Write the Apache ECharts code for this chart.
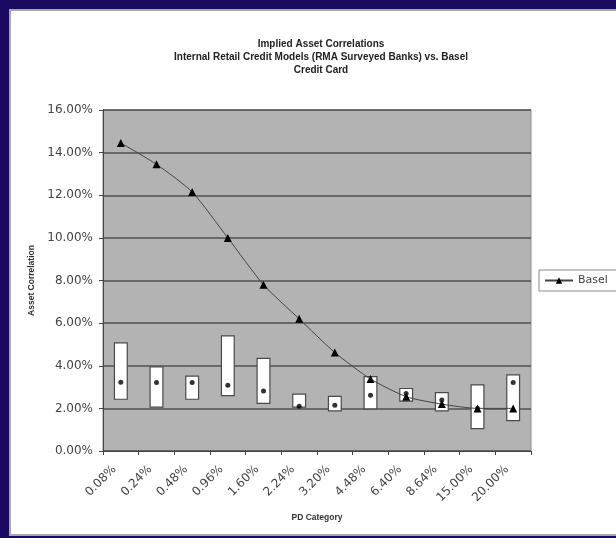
<!DOCTYPE html>
<html>
<head>
<meta charset="utf-8">
<script src="https://cdn.jsdelivr.net/npm/echarts@6/dist/echarts.min.js"></script>
<style>
  html, body { margin: 0; padding: 0; background: #1b0a5f; }
  #chart { width: 616px; height: 538px; }
</style>
</head>
<body>
<div id="chart"></div>
<script>
// PD buckets on the category axis
const categories = ['0.08%', '0.24%', '0.48%', '0.96%', '1.60%', '2.24%', '3.20%', '4.48%', '6.40%', '8.64%', '15.00%', '20.00%'];
// Basel curve (asset correlation, %)
const baselValues = [14.45, 13.45, 12.15, 10.0, 7.8, 6.2, 4.62, 3.38, 2.55, 2.2, 2.0, 2.0];
// Range of bank-reported correlations per bucket (%)
const rangeLow  = [2.40, 2.03, 2.40, 2.57, 2.21, 2.03, 1.85, 1.95, 2.31, 1.85, 1.02, 1.40];
const rangeHigh = [5.10, 3.98, 3.54, 5.43, 4.37, 2.70, 2.59, 3.52, 2.96, 2.77, 3.13, 3.60];
// Median of the bank-reported correlations (%)
const medianValues = [3.22, 3.21, 3.21, 3.09, 2.81, 2.10, 2.15, 2.62, 2.70, 2.39, 2.00, 3.21];
// Y axis ticks (%)
const yMin = 0, yMax = 16, yStep = 2;

const rangeSpan = rangeHigh.map((h, i) => +(h - rangeLow[i]).toFixed(2));

const chart = echarts.init(document.getElementById('chart'), null, { renderer: 'canvas' });
const FONT = 'Liberation Sans, Arial, sans-serif';
const WIDE = 'DejaVu Sans, sans-serif';

chart.setOption({
  backgroundColor: '#1b0a5f',
  animation: false,
  graphic: [{
    type: 'rect',
    z: -100,
    shape: { x: 10, y: 10, width: 640, height: 525 },
    style: { fill: '#ffffff', stroke: '#a8a8a8', lineWidth: 2 }
  }],
  title: {
    text: 'Implied Asset Correlations\nInternal Retail Credit Models (RMA Surveyed Banks) vs. Basel\nCredit Card',
    left: 316,
    top: 33,
    textAlign: 'center',
    textStyle: { fontFamily: FONT, fontSize: 10, fontWeight: 'bold', color: '#222', lineHeight: 13 }
  },
  legend: {
    data: ['Basel'],
    left: 539,
    top: 270,
    orient: 'vertical',
    itemWidth: 28,
    itemHeight: 8,
    itemGap: 4,
    padding: [5, 30, 5, 5],
    borderColor: '#8a8a8a',
    borderWidth: 1,
    backgroundColor: '#ffffff',
    textStyle: { fontFamily: WIDE, fontSize: 11, color: '#444' }
  },
  grid: {
    left: 103, right: 85, top: 110, bottom: 87,
    show: true,
    backgroundColor: '#b3b3b3',
    borderColor: '#8c8c8c',
    borderWidth: 1
  },
  xAxis: {
    type: 'category',
    data: categories,
    boundaryGap: true,
    name: 'PD Category',
    nameLocation: 'middle',
    nameGap: 62,
    nameTextStyle: { fontFamily: FONT, fontSize: 8.5, fontWeight: 'bold', color: '#333' },
    axisLine: { lineStyle: { color: '#444', width: 1 } },
    axisTick: { show: true, length: 4, lineStyle: { color: '#444' } },
    axisLabel: { interval: 0, rotate: 45, fontFamily: WIDE, fontSize: 12, color: '#444', margin: 10, padding: [0, 9, 0, 0] },
    splitLine: { show: false }
  },
  yAxis: {
    type: 'value',
    min: yMin, max: yMax, interval: yStep,
    name: 'Asset Correlation',
    nameLocation: 'middle',
    nameGap: 58,
    nameRotate: 90,
    nameTextStyle: { fontFamily: FONT, fontSize: 8.5, fontWeight: 'bold', color: '#333' },
    axisLine: { show: true, lineStyle: { color: '#444', width: 1 } },
    axisTick: { show: true, length: 4, lineStyle: { color: '#444' } },
    axisLabel: { fontFamily: WIDE, fontSize: 12, color: '#444', margin: 10, formatter: v => v.toFixed(2) + '%' },
    splitLine: { show: true, lineStyle: { color: '#505050', width: 1.6 } }
  },
  series: [
    {
      name: 'low',
      type: 'bar',
      stack: 'range',
      data: rangeLow,
      barWidth: 14,
      itemStyle: { color: 'transparent' },
      silent: true,
      z: 2
    },
    {
      name: 'range',
      type: 'bar',
      stack: 'range',
      data: rangeSpan,
      barWidth: 14,
      itemStyle: { color: '#ffffff', borderColor: '#4a4a4a', borderWidth: 1.2 },
      z: 2
    },
    {
      name: 'Median',
      type: 'scatter',
      data: medianValues,
      symbol: 'circle',
      symbolSize: 5,
      itemStyle: { color: '#000' },
      z: 4
    },
    {
      name: 'Basel',
      type: 'line',
      data: baselValues,
      smooth: 0.22,
      symbol: 'triangle',
      symbolSize: 8,
      lineStyle: { color: '#444', width: 1 },
      itemStyle: { color: '#000' },
      z: 5
    }
  ]
});
</script>
</body>
</html>
